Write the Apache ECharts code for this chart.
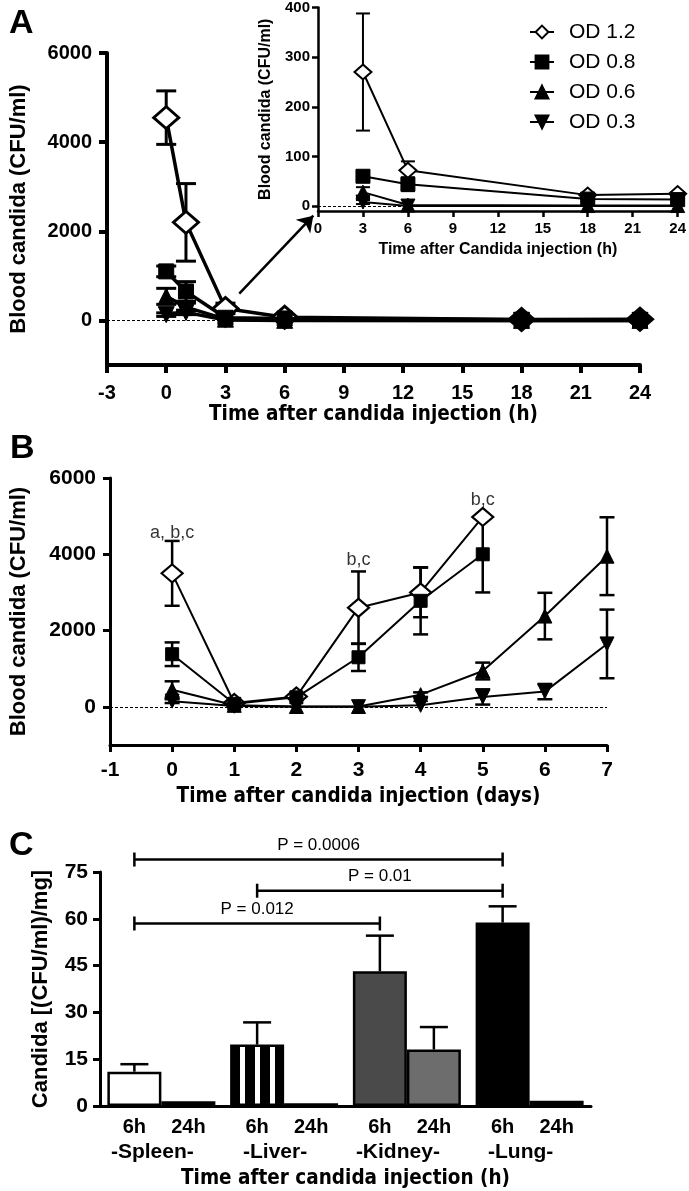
<!DOCTYPE html>
<html><head><meta charset="utf-8">
<script src="https://cdn.jsdelivr.net/npm/echarts@6/dist/echarts.min.js"></script>
<style>html,body{margin:0;padding:0;background:#fff}#c{width:689px;height:1191px}</style>
</head><body><div id="c"></div>
<script>
// ---------- DATA ----------
// Panel A (hours)
const hoursA = [0, 1, 3, 6, 18, 24];
const aOD12 = [4550, 2200, 270, 72, 22, 25];
const aOD12Err = [600, 870, 118, 18, 3, 3];
const aOD08 = [1100, 650, 60, 44, 14, 13];
const aOD08Err = [120, 220, 8, 14, 3, 3];
const aOD06 = [540, 300, 28, 2, 1, 1];
const aOD06Err = [180, 90, 10, 2, 0, 0];
const aOD03 = [130, 180, 8, 0, 0, 0];
const aOD03Err = [40, 50, 4, 0, 0, 0];
const seriesNames = ['OD 1.2', 'OD 0.8', 'OD 0.6', 'OD 0.3'];
const aMainYTicks = [0, 2000, 4000, 6000];
const aInsetYTicks = [0, 100, 200, 300, 400];
const arrowFrom = [3.7, 600];
const arrowTo = [7.45, 2350];
// Panel B (days)
const daysB = [0, 1, 2, 3, 4, 5, 6, 7];
const bOD12 = [3500, 100, 270, 2600, 3000, 4980];
const bOD12Err = [850, 40, 50, 950, 650, 0];
const bOD08 = [1380, 80, 250, 1300, 2780, 4000];
const bOD08Err = [310, 30, 40, 360, 880, 1000];
const bOD06 = [450, 40, 10, 10, 320, 940, 2380, 3950];
const bOD06Err = [220, 20, 10, 10, 60, 220, 610, 1020];
const bOD03 = [150, 20, 5, 5, 40, 260, 400, 1650];
const bOD03Err = [50, 10, 5, 5, 20, 200, 200, 900];
const bYTicks = [0, 2000, 4000, 6000];
const annoDays = [0, 3, 5];
const annoY = [4560, 3850, 5420];
const annoText = ['a, b,c', 'b,c', 'b,c'];
// Panel C
const organs = ['-Spleen-', '-Liver-', '-Kidney-', '-Lung-'];
const timeLabels = ['6h', '24h'];
const c6h = [11, 19.7, 43.2, 58.8];
const c6hErr = [2.4, 7.1, 11.4, 5.2];
const c24h = [1.5, 0.9, 18.1, 1.7];
const c24hErr = [0.6, 0.3, 7.2, 0.5];
const bracketFrom = [0, 1, 0];
const bracketTo = [3, 3, 2];
const bracketY = [79, 69, 58.5];
const bracketText = ['P = 0.0006', 'P = 0.01', 'P = 0.012'];

// ---------- STYLE ----------
const ARIAL = "'Liberation Sans', Arial, sans-serif";
const NARROW = "'Liberation Sans Narrow', 'DejaVu Sans Condensed', 'Liberation Sans', sans-serif";
const BAR_W = 54;

const stripe = document.createElement('canvas');
stripe.width = 15; stripe.height = 4;
(function () { const g = stripe.getContext('2d'); g.fillStyle = '#fff'; g.fillRect(0, 0, 15, 4); g.fillStyle = '#000'; g.fillRect(5, 0, 10, 4); })();
const fill6 = ['#ffffff', { image: stripe, repeat: 'repeat' }, '#4a4a4a', '#000000'];
const fill24 = ['#ffffff', '#111111', '#6d6d6d', '#000000'];

const syms = [
  { symbol: 'diamond', rot: 0, fill: '#fff' },
  { symbol: 'rect', rot: 0, fill: '#000' },
  { symbol: 'triangle', rot: 0, fill: '#000' },
  { symbol: 'triangle', rot: 180, fill: '#000' }
];

function pairs(xs, ys) { return ys.map((y, i) => [xs[i], y]); }
function triples(xs, ys, es) { return ys.map((y, i) => [xs[i], y, es[i]]); }
const plain = function (v) { return String(v); };

function errSeries(ax, data, capW, lw, upOnly, offset, z) {
  return {
    type: 'custom', name: 'err', xAxisIndex: ax, yAxisIndex: ax, data: data, z: z || 1,
    silent: true, animation: false,
    renderItem: function (params, api) {
      const x = api.value(0), y = api.value(1), e = api.value(2);
      if (!e) return null;
      const t = api.coord([x, y + e]);
      const b = api.coord([x, upOnly ? y : y - e]);
      if (Math.abs(b[1] - t[1]) < 2) return null;
      const cx = t[0] + (offset || 0);
      const st = { stroke: '#000', lineWidth: lw };
      const ch = [
        { type: 'line', shape: { x1: cx, y1: t[1], x2: cx, y2: b[1] }, style: st },
        { type: 'line', shape: { x1: cx - capW / 2, y1: t[1], x2: cx + capW / 2, y2: t[1] }, style: st }
      ];
      if (!upOnly) ch.push({ type: 'line', shape: { x1: cx - capW / 2, y1: b[1], x2: cx + capW / 2, y2: b[1] }, style: st });
      return { type: 'group', children: ch };
    }
  };
}

function lineSeries(ax, k, xs, ys, size, lw, bw, fillOverride) {
  const s = syms[k];
  return {
    type: 'line', name: seriesNames[k], xAxisIndex: ax, yAxisIndex: ax,
    data: pairs(xs, ys), symbol: s.symbol, symbolRotate: s.rot, symbolSize: size,
    showSymbol: true, animation: false, z: 3 + (k === 0 ? 0 : 1),
    itemStyle: { color: fillOverride || s.fill, borderColor: '#000', borderWidth: bw, opacity: 1 },
    lineStyle: { color: '#000', width: lw }
  };
}

function zeroLine(ax) {
  return {
    type: 'line', name: 'zero', xAxisIndex: ax, yAxisIndex: ax, data: [], silent: true, animation: false,
    markLine: { silent: true, symbol: ['none', 'none'], label: { show: false }, animation: false,
      lineStyle: { color: '#000', width: 1.2, type: [3, 2] }, data: [{ yAxis: 0 }] }
  };
}

const tickFont = (sz) => ({ color: '#000', fontFamily: ARIAL, fontWeight: 'bold', fontSize: sz, formatter: plain });

function valAxis(opts) {
  return Object.assign({
    type: 'value', splitLine: { show: false },
    axisLine: { show: true, onZero: false, lineStyle: { color: '#000', width: opts.aw } },
    axisTick: { show: true, inside: false, length: opts.tl || 7, lineStyle: { color: '#000', width: opts.aw } },
    nameLocation: 'middle'
  }, opts.extra);
}

const series = [];
// ---------- Inset (grid 1) first so legend picks its styles ----------
const insetX = hoursA.slice(2);
const insetData = [aOD12, aOD08, aOD06, aOD03].map(a => a.slice(2));
const insetErr = [aOD12Err, aOD08Err, aOD06Err, aOD03Err].map(a => a.slice(2));
series.push(zeroLine(1));
for (let k = 0; k < 4; k++) series.push(errSeries(1, triples(insetX, insetData[k], insetErr[k]), 14, 2, false, 0, 2));
const insetSizes = [[17, 15], 14, 14, 14];
for (let k = 0; k < 4; k++) series.push(lineSeries(1, k, insetX, insetData[k], insetSizes[k], 2, k === 0 ? 2 : 1));

// ---------- Panel A main (grid 0) ----------
const aData = [aOD12, aOD08, aOD06, aOD03];
const aErr = [aOD12Err, aOD08Err, aOD06Err, aOD03Err];
series.push(zeroLine(0));
for (let k = 0; k < 4; k++) series.push(errSeries(0, triples(hoursA, aData[k], aErr[k]), 20, 3, false, 0, 2));
const aSizes = [[25, 22], 15, 16, 16];
for (let k = 0; k < 4; k++) {
  const s = lineSeries(0, k, hoursA, aData[k], aSizes[k], 3.5, k === 0 ? 3 : 1,
    k === 0 ? function (p) { return p.dataIndex >= 4 ? '#000' : '#fff'; } : null);
  s.name = 'A' + k;
  series.push(s);
}
series.push({
  type: 'line', name: 'arrow', xAxisIndex: 0, yAxisIndex: 0, data: [], silent: true, animation: false,
  markLine: { silent: true, animation: false, symbol: ['none', 'arrow'], symbolSize: 15, label: { show: false },
    lineStyle: { color: '#000', width: 2.5, type: 'solid' },
    data: [[{ coord: arrowFrom }, { coord: arrowTo }]] }
});

// ---------- Panel B (grid 2) ----------
const bData = [bOD12, bOD08, bOD06, bOD03];
const bErr = [bOD12Err, bOD08Err, bOD06Err, bOD03Err];
series.push(zeroLine(2));
for (let k = 0; k < 4; k++) series.push(errSeries(2, triples(daysB, bData[k], bErr[k]), 15, 2.5, false, 0, 2));
const bSizes = [[21, 18], 13, 14, 14];
for (let k = 0; k < 4; k++) {
  const s = lineSeries(2, k, daysB, bData[k], bSizes[k], 2, k === 0 ? 2.2 : 1);
  s.name = 'B' + k;
  series.push(s);
}
series.push({
  type: 'scatter', name: 'anno', xAxisIndex: 2, yAxisIndex: 2, symbolSize: 0, silent: true, animation: false,
  data: annoDays.map((d, i) => ({ value: [d, annoY[i]], label: { formatter: annoText[i] } })),
  label: { show: true, position: 'inside', color: '#000', fontFamily: ARIAL, fontSize: 18 }
});

// ---------- Panel C (grid 3) ----------
series.push({
  type: 'bar', name: '6h', xAxisIndex: 3, yAxisIndex: 3, barWidth: BAR_W, barGap: '0%', animation: false, z: 2,
  data: c6h.map((v, i) => ({ value: v, itemStyle: { color: fill6[i] } })),
  itemStyle: { borderColor: '#000', borderWidth: 2.5 }
});
series.push({
  type: 'bar', name: '24h', xAxisIndex: 3, yAxisIndex: 3, barWidth: BAR_W, barGap: '0%', animation: false, z: 2,
  data: c24h.map((v, i) => ({ value: v, itemStyle: { color: fill24[i] } })),
  itemStyle: { borderColor: '#000', borderWidth: 2.5 }
});
series.push(errSeries(3, triples([0, 1, 2, 3], c6h, c6hErr), 28, 2.5, true, -BAR_W / 2, 1));
series.push(errSeries(3, triples([0, 1, 2, 3], c24h, c24hErr), 28, 2.5, true, BAR_W / 2, 1));
series.push({
  type: 'custom', name: 'brackets', xAxisIndex: 3, yAxisIndex: 3, silent: true, animation: false, clip: false,
  data: bracketY.map((y, i) => [bracketFrom[i], bracketTo[i], y]),
  renderItem: function (params, api) {
    const i = params.dataIndex;
    const a = api.coord([api.value(0), api.value(2)]);
    const b = api.coord([api.value(1), api.value(2)]);
    const x1 = a[0] - BAR_W / 2, x2 = b[0] - BAR_W / 2, y = a[1];
    const st = { stroke: '#000', lineWidth: 2.5 };
    return { type: 'group', children: [
      { type: 'line', shape: { x1: x1, y1: y, x2: x2, y2: y }, style: st },
      { type: 'line', shape: { x1: x1, y1: y - 7, x2: x1, y2: y + 7 }, style: st },
      { type: 'line', shape: { x1: x2, y1: y - 7, x2: x2, y2: y + 7 }, style: st },
      { type: 'text', style: { text: bracketText[i], x: (x1 + x2) / 2, y: y - 6, align: 'center', verticalAlign: 'bottom',
        fill: '#000', fontFamily: ARIAL, fontSize: 17 } }
    ] };
  }
});

const option = {
  animation: false,
  backgroundColor: '#fff',
  textStyle: { color: '#000', fontFamily: ARIAL },
  title: [
    { text: 'A', left: 4, top: 2, textStyle: { fontSize: 34, fontWeight: 'bold', fontFamily: ARIAL, color: '#000' } },
    { text: 'B', left: 5, top: 427, textStyle: { fontSize: 34, fontWeight: 'bold', fontFamily: ARIAL, color: '#000' } },
    { text: 'C', left: 4, top: 824, textStyle: { fontSize: 34, fontWeight: 'bold', fontFamily: ARIAL, color: '#000' } }
  ],
  legend: {
    data: seriesNames, orient: 'vertical', left: 524, top: 16, itemWidth: 24, itemHeight: 16, itemGap: 8,
    textStyle: { fontFamily: ARIAL, fontSize: 21, color: '#000', lineHeight: 22, padding: [0, 0, 0, 10] },
    selectedMode: false
  },
  grid: [
    { left: 97, top: 53, width: 543, height: 312 },
    { left: 318, top: 5, width: 361, height: 206 },
    { left: 101, top: 478, width: 506, height: 267 },
    { left: 100, top: 872, width: 491, height: 234 }
  ],
  xAxis: [
    valAxis({ aw: 4, tl: 8, extra: { gridIndex: 0, min: -3, max: 24, interval: 3,
      axisLabel: Object.assign(tickFont(20), { margin: 18 }),
      name: 'Time after candida injection (h)', nameGap: 39,
      nameTextStyle: { fontFamily: NARROW, fontWeight: 'bold', fontSize: 20.5, color: '#000' } } }),
    valAxis({ aw: 2.5, tl: 6, extra: { gridIndex: 1, min: 0, max: 24, interval: 3,
      axisLabel: Object.assign(tickFont(15), { margin: 10 }),
      name: 'Time after Candida injection (h)', nameGap: 31,
      nameTextStyle: { fontFamily: ARIAL, fontWeight: 'bold', fontSize: 16, color: '#000' } } }),
    valAxis({ aw: 3, tl: 7, extra: { gridIndex: 2, min: -1, max: 7, interval: 1,
      axisLabel: Object.assign(tickFont(21), { margin: 15 }),
      name: 'Time after candida injection (days)', nameGap: 41,
      nameTextStyle: { fontFamily: NARROW, fontWeight: 'bold', fontSize: 20.5, color: '#000' } } }),
    { type: 'category', gridIndex: 3, data: organs, boundaryGap: true,
      axisLine: { show: true, onZero: false, lineStyle: { color: '#000', width: 3 } },
      axisTick: { show: false },
      axisLabel: { margin: 9, interval: 0, color: '#000',
        formatter: function (v) { return '{t|' + timeLabels[0] + '}{t|' + timeLabels[1] + '}\n{o|' + v + '}'; },
        rich: {
          t: { width: BAR_W, align: 'center', fontFamily: ARIAL, fontWeight: 'bold', fontSize: 20, lineHeight: 25, color: '#000' },
          o: { fontFamily: ARIAL, fontWeight: 'bold', fontSize: 21, lineHeight: 25, color: '#000', padding: [0, 18, 0, 0] }
        } },
      name: 'Time after candida injection (h)', nameLocation: 'middle', nameGap: 62,
      nameTextStyle: { fontFamily: NARROW, fontWeight: 'bold', fontSize: 20.5, color: '#000' } }
  ],
  yAxis: [
    valAxis({ aw: 4, tl: 8, extra: { gridIndex: 0, min: -1000, max: 6000,
      axisLabel: Object.assign(tickFont(20), { margin: 15, customValues: aMainYTicks }),
      axisTick: { show: true, length: 8, customValues: aMainYTicks, lineStyle: { color: '#000', width: 4 } },
      name: 'Blood candida (CFU/ml)', nameGap: 77,
      nameTextStyle: { fontFamily: ARIAL, fontWeight: 'bold', fontSize: 22, color: '#000' } } }),
    valAxis({ aw: 2.5, tl: 6, extra: { gridIndex: 1, min: -10, max: 400,
      axisLabel: Object.assign(tickFont(15), { margin: 8, customValues: aInsetYTicks }),
      axisTick: { show: true, length: 6, customValues: aInsetYTicks, lineStyle: { color: '#000', width: 2.5 } },
      name: 'Blood candida (CFU/ml)', nameGap: 42,
      nameTextStyle: { fontFamily: ARIAL, fontWeight: 'bold', fontSize: 16, color: '#000' } } }),
    valAxis({ aw: 3, tl: 7, extra: { gridIndex: 2, min: -1000, max: 6000,
      axisLabel: Object.assign(tickFont(21), { margin: 14, customValues: bYTicks }),
      axisTick: { show: true, length: 7, customValues: bYTicks, lineStyle: { color: '#000', width: 3 } },
      name: 'Blood candida (CFU/ml)', nameGap: 80,
      nameTextStyle: { fontFamily: ARIAL, fontWeight: 'bold', fontSize: 22, color: '#000' } } }),
    valAxis({ aw: 3, tl: 7, extra: { gridIndex: 3, min: 0, max: 75, interval: 15,
      axisLabel: Object.assign(tickFont(21), { margin: 12 }),
      name: 'Candida [(CFU/ml)/mg]', nameGap: 48,
      nameTextStyle: { fontFamily: ARIAL, fontWeight: 'bold', fontSize: 22, color: '#000' } } })
  ],
  series: series
};

const chart = echarts.init(document.getElementById('c'), null, { renderer: 'canvas' });
chart.setOption(option);
</script></body></html>
